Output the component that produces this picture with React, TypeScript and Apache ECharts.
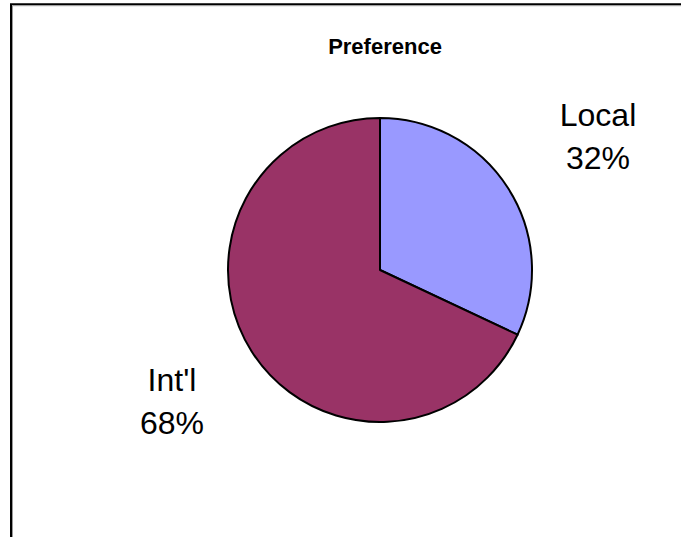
import React, { useEffect, useRef } from "react";
import * as echarts from "echarts";

const titleText = "Preference";
const categories = ["Local", "Int'l"];
const shares = [32, 68];
const sliceColors = ["#9999FF", "#993366"];

export default function App() {
  const ref = useRef<HTMLDivElement>(null);

  useEffect(() => {
    if (!ref.current) return;
    const chart = echarts.init(ref.current, null, { renderer: "svg" });
    const labelSpots: [number, number][] = [
      [598, 136],
      [172, 401],
    ];
    chart.setOption({
      animation: false,
      backgroundColor: "#ffffff",
      title: {
        text: titleText,
        left: 380,
        top: 30,
        textAlign: "center",
        textStyle: {
          fontFamily: "Liberation Sans, Arial, sans-serif",
          fontWeight: "bold",
          fontSize: 22,
          color: "#000000",
        },
      },
      graphic: [
        {
          type: "rect",
          shape: { x: 11, y: 4.2, width: 720, height: 600 },
          style: { fill: "none", stroke: "#000000", lineWidth: 2 },
          silent: true,
        },
        {
          type: "rect",
          shape: { x: 12.5, y: 5.7, width: 720, height: 600 },
          style: { fill: "none", stroke: "#9a9a9a", lineWidth: 1 },
          silent: true,
        },
      ],
      series: [
        {
          type: "pie",
          center: [380, 270],
          radius: 152,
          startAngle: 90,
          clockwise: true,
          data: categories.map((name, i) => ({
            name,
            value: shares[i],
            itemStyle: { color: sliceColors[i] },
          })),
          itemStyle: { borderColor: "#000000", borderWidth: 2 },
          label: {
            show: true,
            position: "outside",
            formatter: "{b}\n{d}%",
            fontFamily: "Liberation Sans, Arial, sans-serif",
            fontSize: 32,
            lineHeight: 43,
            color: "#000000",
            align: "center",
          },
          labelLine: { show: false },
          labelLayout: (params: any) => {
            const p = labelSpots[params.dataIndex];
            return { x: p[0], y: p[1], align: "center", verticalAlign: "middle" };
          },
          emphasis: { disabled: true },
        },
      ],
    });
    return () => chart.dispose();
  }, []);

  return (
    <div
      ref={ref}
      style={{ position: "fixed", left: 0, top: 0, width: 681, height: 537 }}
    />
  );
}
